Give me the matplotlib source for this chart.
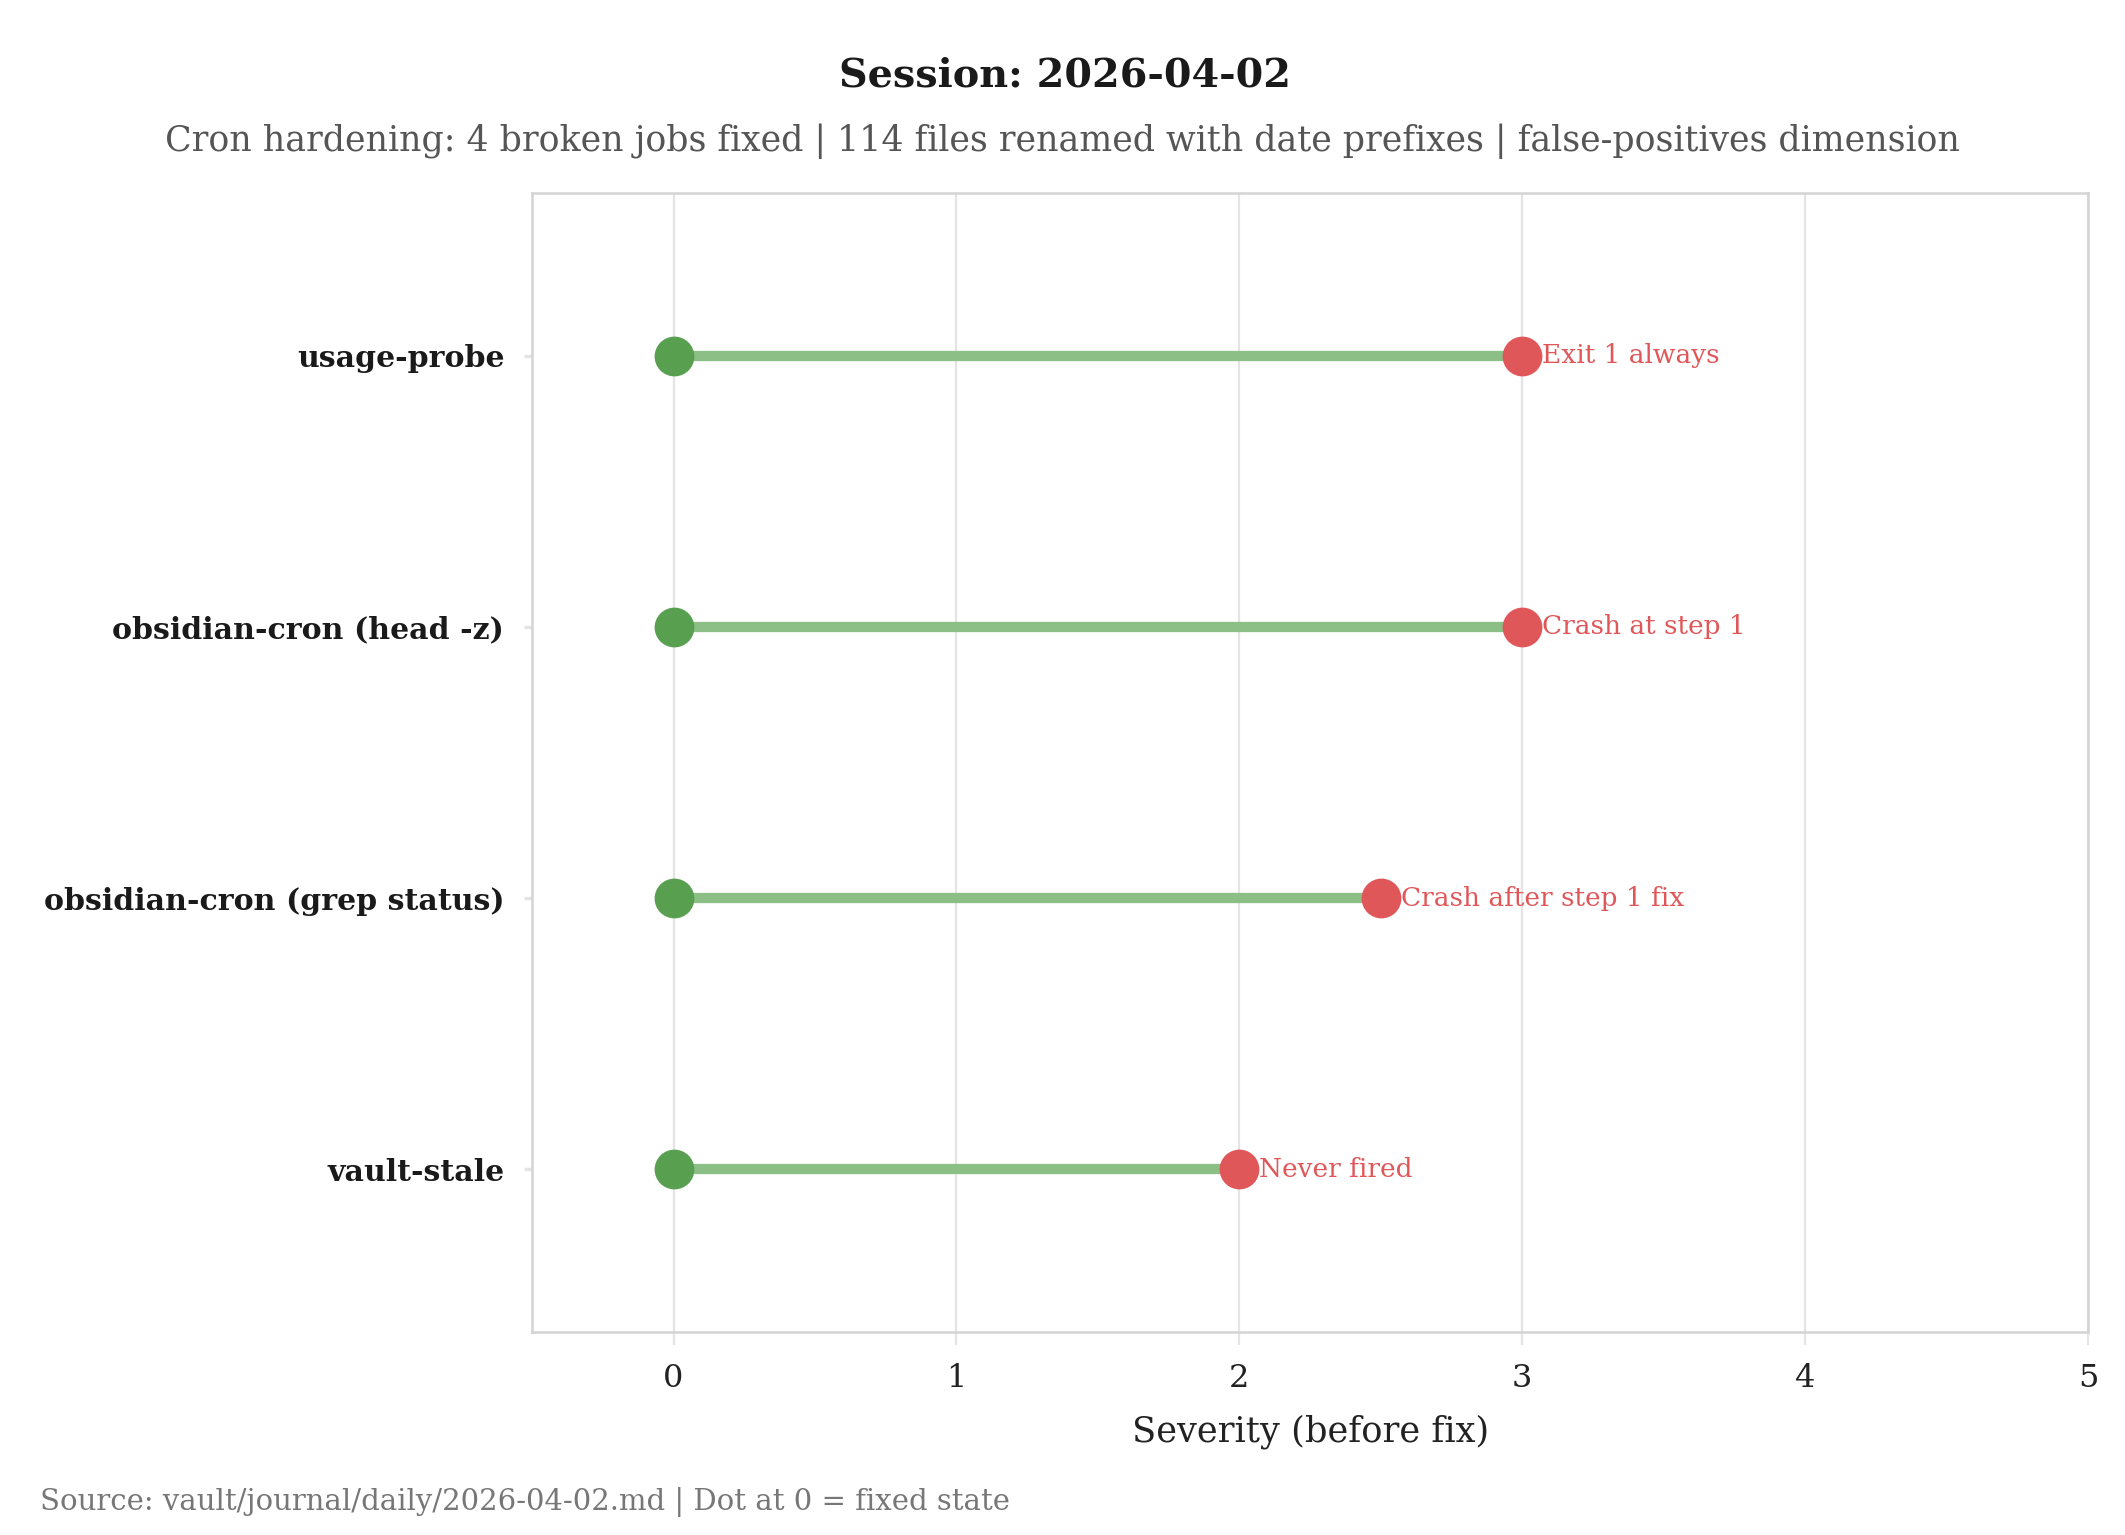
import matplotlib.pyplot as plt

plt.rcParams['font.family'] = ['DejaVu Serif']

# data
jobs = ["usage-probe", "obsidian-cron (head -z)", "obsidian-cron (grep status)", "vault-stale"]
severity_before = [3, 3, 2.5, 2]
severity_after = [0, 0, 0, 0]
notes = ["Exit 1 always", "Crash at step 1", "Crash after step 1 fix", "Never fired"]

GREEN_LINE = "#8bbf85"
GREEN_DOT = "#58a050"
RED = "#e0575a"
GRID = "#e4e4e4"


def main():
    fig = plt.figure(figsize=(10.625, 7.675), dpi=200)
    ax = fig.add_axes([0.2504, 0.1322, 0.7322, 0.7421])

    ypos = list(range(len(jobs)))[::-1]
    for y, b, a, note in zip(ypos, severity_before, severity_after, notes):
        ax.plot([a, b], [y, y], color=GREEN_LINE, lw=3.7, solid_capstyle="butt", zorder=2)
        ax.scatter([a], [y], s=205, color=GREEN_DOT, zorder=3, linewidths=0)
        ax.scatter([b], [y], s=205, color=RED, zorder=3, linewidths=0)
        ax.text(b + 0.07, y, note, color=RED, fontsize=9.5, va="center", ha="left", zorder=4)

    ax.set_xlim(-0.5, 5)
    ax.set_ylim(-0.6, 3.6)
    ax.set_xticks([0, 1, 2, 3, 4, 5])
    ax.set_yticks(ypos)
    ax.set_yticklabels(jobs, fontweight="bold", fontsize=10.8, color="#1a1a1a")
    ax.tick_params(axis="x", labelsize=11.5, color=GRID, length=4.5, width=0.8, pad=6.5)
    ax.tick_params(axis="y", color=GRID, length=3, width=1.2, pad=7)
    for lab in ax.get_xticklabels():
        lab.set_color("#222222")

    ax.grid(axis="x", color=GRID, lw=0.8, zorder=0)
    ax.set_axisbelow(True)
    for s in ax.spines.values():
        s.set_color("#d4d4d4")
        s.set_linewidth(0.9)

    ax.set_xlabel("Severity (before fix)", fontsize=12.7, color="#222222", labelpad=7.5)

    fig.text(0.501, 0.951, "Session: 2026-04-02", ha="center", va="center",
             fontsize=14.3, fontweight="bold", color="#1a1a1a")
    fig.text(0.5, 0.908,
             "Cron hardening: 4 broken jobs fixed | 114 files renamed with date prefixes | false-positives dimension",
             ha="center", va="center", fontsize=12.5, color="#555555")
    fig.text(0.019, 0.0215, "Source: vault/journal/daily/2026-04-02.md | Dot at 0 = fixed state",
             ha="left", va="center", fontsize=10.5, color="#777777")

    fig.savefig("out.png", dpi=200, facecolor="white")


if __name__ == "__main__":
    main()
